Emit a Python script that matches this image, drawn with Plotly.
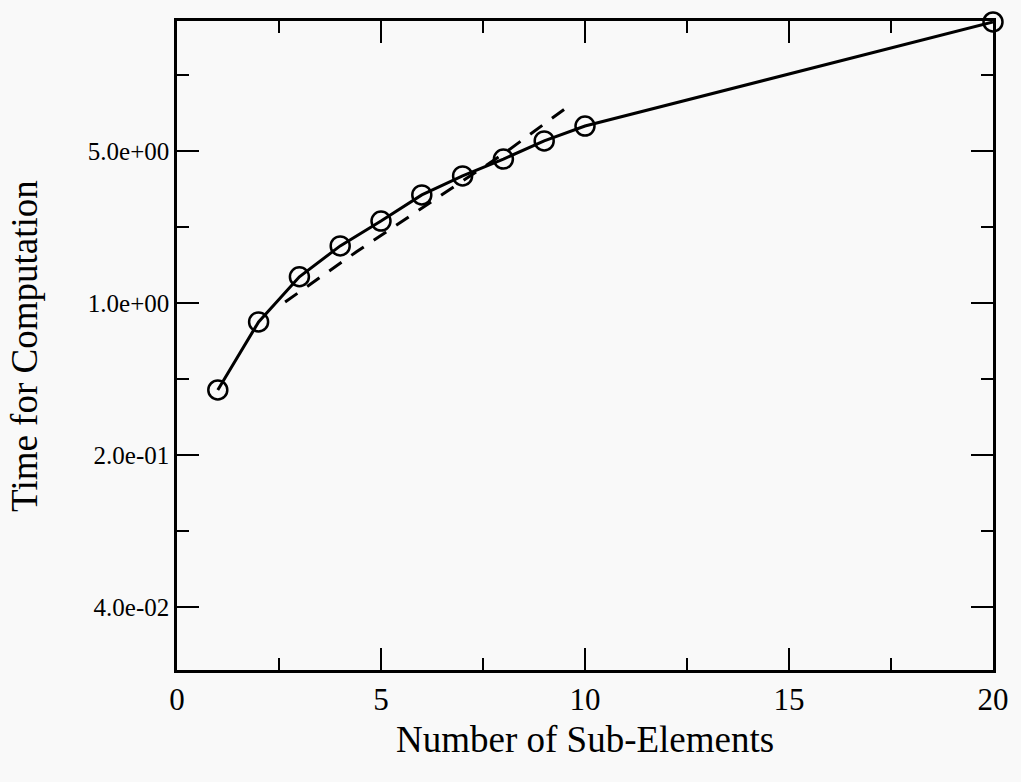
import plotly.graph_objects as go

# Data
sub_elements = [1, 2, 3, 4, 5, 6, 7, 8, 9, 10, 20]
comp_time = [0.398, 0.818, 1.32, 1.83, 2.38, 3.14, 3.84, 4.59, 5.56, 6.51, 19.6]

fit_x = [2.65, 4.4, 6.5, 8.0, 9.7]
fit_y = [1.01, 1.72, 3.15, 4.85, 8.3]

y_tickvals = [0.04, 0.2, 1.0, 5.0]
y_ticktext = ["4.0e-02", "2.0e-01", "1.0e+00", "5.0e+00"]
y_minor = [0.0894, 0.447, 2.236, 11.18]

x_tickvals = [0, 5, 10, 15, 20]
x_minor = [2.5, 7.5, 12.5, 17.5]

FONT = "Liberation Serif"

fig = go.Figure()
fig.add_trace(go.Scatter(
    x=fit_x, y=fit_y, mode="lines",
    line=dict(color="black", width=3, dash="15px,12px"),
    showlegend=False,
))
fig.add_trace(go.Scatter(
    x=sub_elements, y=comp_time, mode="lines+markers",
    line=dict(color="black", width=3),
    marker=dict(symbol="circle-open", size=19, line=dict(color="black", width=2.5)),
    showlegend=False, cliponaxis=False,
))

fig.update_layout(
    width=1021, height=782,
    margin=dict(l=177, r=20, t=21, b=112),
    paper_bgcolor="#f9f9f9", plot_bgcolor="#f9f9f9",
    font=dict(family=FONT, color="black"),
    xaxis=dict(
        range=[0, 20], showgrid=False, zeroline=False,
        showline=True, linecolor="black", linewidth=2.5, mirror="ticks",
        ticks="inside", ticklen=22, tickwidth=2, tickcolor="black",
        tickvals=x_tickvals, ticktext=[str(v) for v in x_tickvals],
        tickfont=dict(family=FONT, size=31, color="black"),
        minor=dict(tickvals=x_minor, ticks="inside", ticklen=12, tickwidth=2, tickcolor="black", showgrid=False),
    ),
    yaxis=dict(
        type="log", range=[-1.688, 1.2967], showgrid=False, zeroline=False,
        showline=True, linecolor="black", linewidth=2.5, mirror="ticks",
        ticks="inside", ticklen=22, tickwidth=2, tickcolor="black",
        tickvals=y_tickvals, ticktext=y_ticktext,
        tickfont=dict(family=FONT, size=25, color="black"),
        minor=dict(tickvals=y_minor, ticks="inside", ticklen=12, tickwidth=2, tickcolor="black", showgrid=False),
    ),
    annotations=[
        dict(text="Number of Sub-Elements", xref="paper", yref="paper",
             x=0.5, y=-0.107, yanchor="middle", xanchor="center", showarrow=False,
             font=dict(family=FONT, size=37, color="black")),
        dict(text="Time for Computation", xref="paper", yref="paper",
             x=-0.187, y=0.5, textangle=-90, xanchor="center", yanchor="middle",
             showarrow=False, font=dict(family=FONT, size=37, color="black")),
    ],
)

fig.write_html("out.html")
